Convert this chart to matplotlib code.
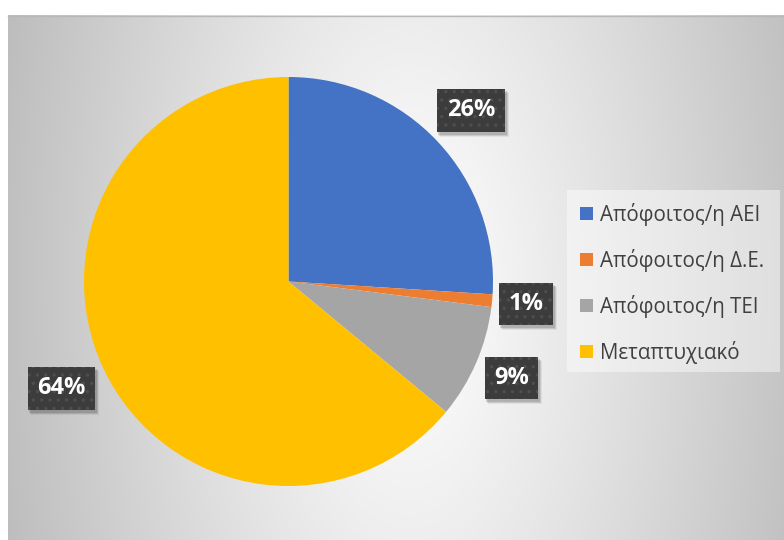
import numpy as np
import matplotlib.pyplot as plt
from matplotlib.patches import Rectangle
from matplotlib.transforms import IdentityTransform

plt.rcParams['font.family'] = ['Open Sans', 'DejaVu Sans']
plt.rcParams['hatch.linewidth'] = 1.2

labels = ['Απόφοιτος/η ΑΕΙ', 'Απόφοιτος/η Δ.Ε.', 'Απόφοιτος/η ΤΕΙ', 'Μεταπτυχιακό']
shares = [26, 1, 9, 64]
colors = ['#4472c4', '#ed7d31', '#a5a5a5', '#ffc000']

W, H = 784, 540
fig = plt.figure(figsize=(W / 100, H / 100), dpi=100)
fig.patch.set_facecolor('white')

# background panel in pixel coords
bg = fig.add_axes([0, 0, 1, 1])
bg.set_xlim(0, W)
bg.set_ylim(H, 0)
bg.axis('off')

x0, y0 = 8, 15
xs = np.linspace(x0, W, 400)
ys = np.linspace(y0, H, 300)
gx, gy = np.meshgrid(xs, ys)
cx, cy = 410, 290
ux = np.abs(gx - cx) / (W - x0) * 2
uy = np.abs(gy - cy) / (H - y0) * 2
u = np.sqrt(ux ** 2 + (0.33 * uy) ** 2)
v = np.clip(255 - 60 * u ** 1.1, 185, 255) / 255
bg.imshow(np.dstack([v, v, v]), extent=[x0, W, H, y0], aspect='auto',
          interpolation='bilinear', zorder=0)
bg.plot([x0, W], [y0 + 0.5, y0 + 0.5], color='#b8b8b8', lw=1, zorder=1)

# legend drawn by hand
bg.add_patch(Rectangle((567, 190), 213, 182, facecolor='white', alpha=0.45,
                       edgecolor='none', zorder=2))
for i, (lab, col) in enumerate(zip(labels, colors)):
    yc = 214 + i * 46
    bg.add_patch(Rectangle((580, yc - 7), 13, 13, facecolor=col,
                           edgecolor='none', zorder=3))
    bg.text(600, yc, lab, fontsize=14.8, color='#404040', va='center',
            ha='left', zorder=3)

# pie, 204.5 px per data unit
R = 204.5
pcx, pcy = 288.5, 281.5
ax = fig.add_axes([0, 0, 1, 1])
ax.patch.set_alpha(0)

wedges, _ = ax.pie(shares, colors=colors, startangle=90, counterclock=False,
                   radius=1.0, wedgeprops=dict(linewidth=0))
ax.set_xlim(-pcx / R, (W - pcx) / R)
ax.set_ylim(-(H - pcy) / R, pcy / R)
ax.set_aspect('auto')
ax.axis('off')

# data labels outside the slices
total = sum(shares)
start = 90.0
tags = []
for val in shares:
    span = 360.0 * val / total
    mid = np.deg2rad(start - span / 2)
    start -= span
    txt = f'{val}%'
    hw = (17 * len(txt) + 17) / 2 / R
    hh = 20.5 / R
    d = 1.0 + 7 / R + hw * abs(np.cos(mid)) + hh * abs(np.sin(mid))
    tx, ty = d * np.cos(mid), d * np.sin(mid)
    box = dict(boxstyle='square,pad=0.4', facecolor='#3c3c3c',
               edgecolor='#4e4e4e', linewidth=0, hatch='..')
    tags.append(ax.text(tx, ty, txt, fontsize=17, fontweight='bold',
                        color='white', ha='center', va='center', bbox=box,
                        zorder=5))

# soft drop shadow behind each label box
fig.canvas.draw()
for t in tags:
    ext = t.get_bbox_patch().get_window_extent()
    for k, a in ((4, 0.06), (3, 0.1), (2, 0.12)):
        ax.add_patch(Rectangle((ext.x0 + k - 1, ext.y0 - k - 1),
                               ext.width + 1, ext.height + 1,
                               transform=IdentityTransform(),
                               facecolor='black', edgecolor='none',
                               alpha=a, zorder=4))

fig.savefig('out.png', dpi=100)
